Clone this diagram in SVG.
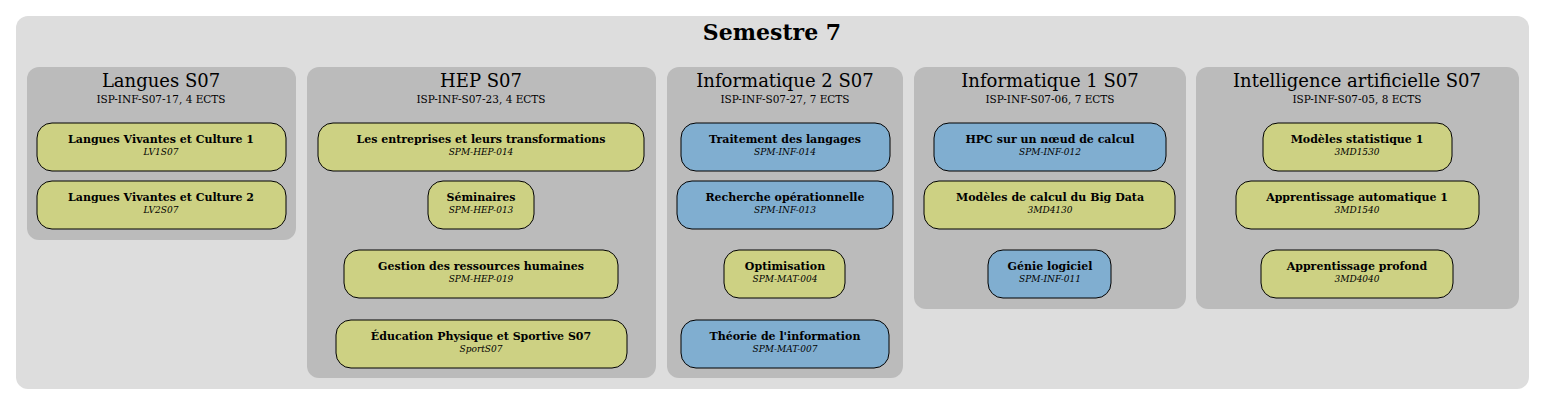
<svg xmlns="http://www.w3.org/2000/svg" width="1545" height="405" viewBox="0 0 1545 405">
<style>
text{font-family:"DejaVu Serif","Liberation Serif",serif;text-anchor:middle;fill:#000}
.cl{fill:#bbbbbb}
.y{fill:#cdd183;stroke:#000;stroke-width:1}
.b{fill:#80aed0;stroke:#000;stroke-width:1}
.ct{font-size:18px}
.cs{font-size:10.5px}
.nt{font-size:11px;font-weight:bold}
.nc{font-size:9px;font-style:italic}
</style>
<rect width="1545" height="405" fill="#fff"/>
<rect x="16" y="16" width="1513" height="373" rx="12" fill="#dddddd"/>
<text x="772" y="40" font-size="22" font-weight="bold">Semestre 7</text>
<g id="cluster-langues"><rect class="cl" x="27" y="67" width="269" height="173" rx="12"/><text class="ct" x="161" y="87">Langues S07</text><text class="cs" x="161" y="103">ISP-INF-S07-17, 4 ECTS</text></g>
<g id="cluster-hep"><rect class="cl" x="307" y="67" width="349" height="311" rx="12"/><text class="ct" x="481" y="87">HEP S07</text><text class="cs" x="481" y="103">ISP-INF-S07-23, 4 ECTS</text></g>
<g id="cluster-info2"><rect class="cl" x="667" y="67" width="236" height="311" rx="12"/><text class="ct" x="785" y="87">Informatique 2 S07</text><text class="cs" x="785" y="103">ISP-INF-S07-27, 7 ECTS</text></g>
<g id="cluster-info1"><rect class="cl" x="914" y="67" width="272" height="242" rx="12"/><text class="ct" x="1050" y="87">Informatique 1 S07</text><text class="cs" x="1050" y="103">ISP-INF-S07-06, 7 ECTS</text></g>
<g id="cluster-ia"><rect class="cl" x="1196" y="67" width="323" height="242" rx="12"/><text class="ct" x="1357" y="87">Intelligence artificielle S07</text><text class="cs" x="1357" y="103">ISP-INF-S07-05, 8 ECTS</text></g>
<g id="connectors"></g>
<g id="LV1S07"><rect class="y" x="37" y="123" width="249" height="48" rx="15"/><text class="nt" x="161" y="143">Langues Vivantes et Culture 1</text><text class="nc" x="161" y="155">LV1S07</text></g>
<g id="LV2S07"><rect class="y" x="37" y="181" width="249" height="48" rx="15"/><text class="nt" x="161" y="201">Langues Vivantes et Culture 2</text><text class="nc" x="161" y="213">LV2S07</text></g>
<g id="SPM-HEP-014"><rect class="y" x="318" y="123" width="326" height="48" rx="15"/><text class="nt" x="481" y="143">Les entreprises et leurs transformations</text><text class="nc" x="481" y="155">SPM-HEP-014</text></g>
<g id="SPM-HEP-013"><rect class="y" x="428" y="181" width="106" height="48" rx="15"/><text class="nt" x="481" y="201">Séminaires</text><text class="nc" x="481" y="213">SPM-HEP-013</text></g>
<g id="SPM-HEP-019"><rect class="y" x="344" y="250" width="274" height="48" rx="15"/><text class="nt" x="481" y="270">Gestion des ressources humaines</text><text class="nc" x="481" y="282">SPM-HEP-019</text></g>
<g id="SportS07"><rect class="y" x="336" y="320" width="291" height="48" rx="15"/><text class="nt" x="481" y="340">Éducation Physique et Sportive S07</text><text class="nc" x="481" y="352">SportS07</text></g>
<g id="SPM-INF-014"><rect class="b" x="681" y="123" width="209" height="48" rx="15"/><text class="nt" x="785" y="143">Traitement des langages</text><text class="nc" x="785" y="155">SPM-INF-014</text></g>
<g id="SPM-INF-013"><rect class="b" x="677" y="181" width="216" height="48" rx="15"/><text class="nt" x="785" y="201">Recherche opérationnelle</text><text class="nc" x="785" y="213">SPM-INF-013</text></g>
<g id="SPM-MAT-004"><rect class="y" x="724" y="250" width="121" height="48" rx="15"/><text class="nt" x="785" y="270">Optimisation</text><text class="nc" x="785" y="282">SPM-MAT-004</text></g>
<g id="SPM-MAT-007"><rect class="b" x="681" y="320" width="208" height="48" rx="15"/><text class="nt" x="785" y="340">Théorie de l'information</text><text class="nc" x="785" y="352">SPM-MAT-007</text></g>
<g id="SPM-INF-012"><rect class="b" x="934" y="123" width="232" height="48" rx="15"/><text class="nt" x="1050" y="143">HPC sur un nœud de calcul</text><text class="nc" x="1050" y="155">SPM-INF-012</text></g>
<g id="3MD4130"><rect class="y" x="924" y="181" width="251" height="48" rx="15"/><text class="nt" x="1050" y="201">Modèles de calcul du Big Data</text><text class="nc" x="1050" y="213">3MD4130</text></g>
<g id="SPM-INF-011"><rect class="b" x="988" y="250" width="123" height="48" rx="15"/><text class="nt" x="1050" y="270">Génie logiciel</text><text class="nc" x="1050" y="282">SPM-INF-011</text></g>
<g id="3MD1530"><rect class="y" x="1263" y="123" width="189" height="48" rx="15"/><text class="nt" x="1357" y="143">Modèles statistique 1</text><text class="nc" x="1357" y="155">3MD1530</text></g>
<g id="3MD1540"><rect class="y" x="1236" y="181" width="243" height="48" rx="15"/><text class="nt" x="1357" y="201">Apprentissage automatique 1</text><text class="nc" x="1357" y="213">3MD1540</text></g>
<g id="3MD4040"><rect class="y" x="1261" y="250" width="192" height="48" rx="15"/><text class="nt" x="1357" y="270">Apprentissage profond</text><text class="nc" x="1357" y="282">3MD4040</text></g>
</svg>
